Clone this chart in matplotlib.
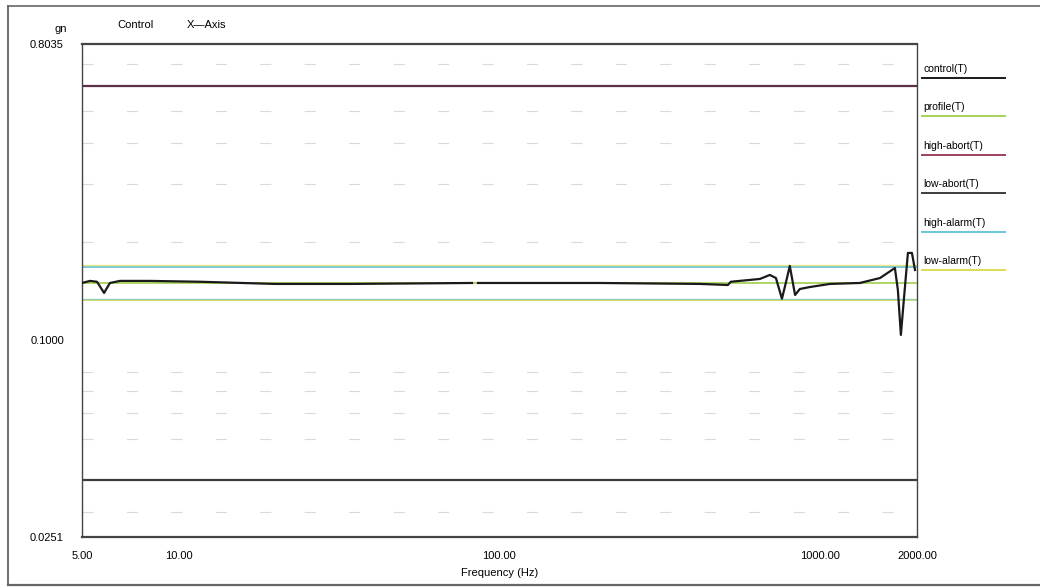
import matplotlib.pyplot as plt
from matplotlib.lines import Line2D
import numpy as np

# ========================
# Data
# ========================
freq_hz = [5.0, 5.30, 5.57, 5.86, 6.11, 6.57, 8.14, 11.66, 19.96, 34.2, 82.1,
           np.nan,
           85.7, 205.6, 421.6, 515, 526, 648, 696, 727, 759, 782, 803, 834, 863,
           927, 1071, 1327, 1534, 1707, 1744, 1782, 1820, 1874, 1929, 1972]
control_gn = [0.1497, 0.1519, 0.1510, 0.1396, 0.1497, 0.1519, 0.1519, 0.1510,
              0.1487, 0.1487, 0.1497,
              np.nan,
              0.1497, 0.1497, 0.1487, 0.1476, 0.1510, 0.1540, 0.1584, 0.1550,
              0.1340, 0.1510, 0.1688, 0.1376, 0.1435, 0.1455, 0.1487, 0.1497,
              0.1550, 0.1663, 0.1425, 0.1039, 0.1328, 0.1849, 0.1849, 0.1640]

profile_gn = 0.150
high_abort_gn = 0.600
low_abort_gn = 0.0375
high_alarm_gn = 0.168
low_alarm_gn = 0.133

x_range = [5.0, 2000.0]
y_range = [0.0251, 0.8035]
x_ticks = [5, 10, 100, 1000, 2000]
x_tick_labels = ["5.00", "10.00", "100.00", "1000.00", "2000.00"]
y_ticks = [0.0251, 0.1, 0.8035]
y_tick_labels = ["0.0251", "0.1000", "0.8035"]
grid_levels = [0.03, 0.05, 0.06, 0.07, 0.08, 0.2, 0.3, 0.4, 0.5, 0.7]

legend_names = ["control(T)", "profile(T)", "high-abort(T)", "low-abort(T)",
                "high-alarm(T)", "low-alarm(T)"]

# Colors
COLOR_CONTROL = '#1a1a1a'
COLOR_PROFILE = '#a8d25a'
COLOR_HIGH_ABORT = '#5e3048'
COLOR_LOW_ABORT = '#3c3c3c'
COLOR_HIGH_ALARM = '#6cc4d6'
COLOR_LOW_ALARM = '#dede52'
legend_colors = [COLOR_CONTROL, COLOR_PROFILE, '#a0405a', COLOR_LOW_ABORT,
                 COLOR_HIGH_ALARM, COLOR_LOW_ALARM]

plt.rcParams.update({'font.family': 'Liberation Sans', 'font.size': 8})

fig = plt.figure(figsize=(10.4, 5.87), dpi=100)
ax = fig.add_axes([0.0788, 0.0852, 0.8029, 0.8399])
ax.set_xscale('log')
ax.set_yscale('log')
ax.set_xlim(x_range)
ax.set_ylim(y_range)

# faint dashed horizontal grid
for g in grid_levels:
    ax.axhline(g, color='#dadada', lw=0.8, dashes=(10, 30), zorder=0)

ax.axhline(high_abort_gn, color=COLOR_HIGH_ABORT, lw=1.6, zorder=2)
ax.axhline(low_abort_gn, color=COLOR_LOW_ABORT, lw=1.6, zorder=2)
ax.axhline(high_alarm_gn, color=COLOR_HIGH_ALARM, lw=1.3, zorder=2)
ax.axhline(high_alarm_gn * 1.008, color=COLOR_LOW_ALARM, lw=1.0, alpha=0.7, zorder=2)
ax.axhline(low_alarm_gn, color=COLOR_LOW_ALARM, lw=1.3, zorder=2)
ax.axhline(low_alarm_gn * 1.008, color=COLOR_HIGH_ALARM, lw=1.0, alpha=0.7, zorder=2)
ax.axhline(profile_gn, color=COLOR_PROFILE, lw=1.3, zorder=2)
ax.plot(freq_hz, control_gn, color=COLOR_CONTROL, lw=1.6, zorder=3)

ax.minorticks_off()
ax.set_xticks(x_ticks)
ax.set_xticklabels(x_tick_labels)
ax.set_yticks(y_ticks)
ax.set_yticklabels(y_tick_labels)
ax.tick_params(length=0, pad=10, labelsize=8)
ax.tick_params(axis='y', pad=13)
for s in ax.spines.values():
    s.set_color('#444444')
    s.set_linewidth(1.0)
ax.spines['top'].set_linewidth(1.6)
ax.spines['bottom'].set_linewidth(1.6)

ax.set_xlabel("Frequency (Hz)", fontsize=8, labelpad=5)
fig.text(0.058, 0.951, "gn", fontsize=8, ha='center', va='center')
fig.text(0.113, 0.957, "Control", fontsize=8, ha='left', va='center')
fig.text(0.180, 0.957, "X\u2014Axis", fontsize=8, ha='left', va='center')

# legend on the right: label with a colored underline
for i, (name, c) in enumerate(zip(legend_names, legend_colors)):
    y_txt = 1 - (69 + 38.4 * i) / 587
    y_line = 1 - (78 + 38.4 * i) / 587
    fig.text(0.888, y_txt, name, fontsize=7.5, ha='left', va='center')
    fig.add_artist(Line2D([0.887, 0.966], [y_line, y_line], color=c, lw=1.4,
                          transform=fig.transFigure))

# scan border (left, top, bottom)
fig.add_artist(Line2D([0.008, 0.008], [0.003, 0.99], color='#555555', lw=1.2,
                      transform=fig.transFigure))
fig.add_artist(Line2D([0.008, 1.0], [0.99, 0.99], color='#666666', lw=1.2,
                      transform=fig.transFigure))
fig.add_artist(Line2D([0.008, 1.0], [0.004, 0.004], color='#666666', lw=1.6,
                      transform=fig.transFigure))

plt.savefig("out.png", dpi=100)
